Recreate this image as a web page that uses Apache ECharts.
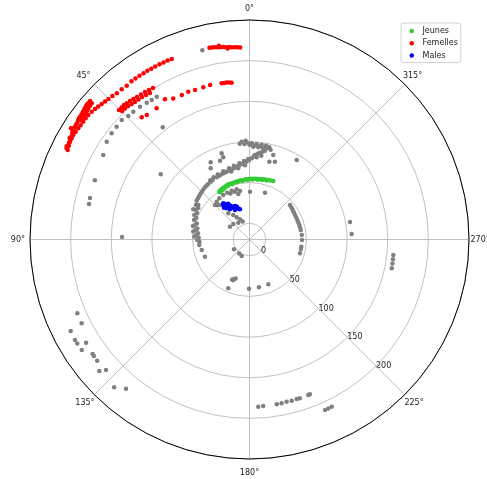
<!DOCTYPE html>
<html>
<head>
<meta charset="utf-8">
<script src="https://cdn.jsdelivr.net/npm/echarts@6/dist/echarts.min.js"></script>
<style>
  html, body { margin: 0; padding: 0; background: #fff; }
  #chart { width: 487px; height: 479px; }
</style>
</head>
<body>
<div id="chart"></div>
<script>
// Angle ticks (degrees, counter-clockwise from north) and radial ticks
const angleTicks = [0, 45, 90, 135, 180, 225, 270, 315];
const radialTicks = [0, 50, 100, 150, 200];
const radialMax = 250;

// Points are [angle in degrees, distance]
const jeunes = [
  [32.3, 49.5], [31, 50.2], [29, 50.6], [27, 51.2], [24.9, 51.6], [23, 52.2], [21, 52.7], [18.5, 52.6],
  [15.9, 52.7], [13.3, 53.1], [10.8, 53.3], [8.3, 53.5], [5.9, 53.6], [3.5, 54.1], [1.1, 54.4],
  [358.7, 54.7], [356.4, 54.9], [354, 55.1], [351.7, 55.2], [349.4, 55.6], [347.1, 56], [344.8, 56.4],
  [342.5, 56.8], [340.2, 57.2], [337.9, 57.7], [31.5, 48.3], [28, 49.4], [26, 50.1], [22, 51.1],
  [17, 51.4], [12, 52.1], [7, 52.4], [2, 53.2], [357, 53.8], [352, 54.2], [348, 54.8], [344, 55.5]
];

const femellesTop = [
  [2.8, 216.4], [3.6, 216.9], [4.4, 217.3], [5.3, 217.6], [6.1, 218], [7, 218.4], [7.8, 218.9],
  [8.7, 219.3], [9.5, 219.8], [10.4, 220.3], [11.2, 220.7], [11.8, 221], [6.5, 216.6], [9, 221.2]
];

const femellesOuter = [
  [23.3, 221.8], [24.6, 222], [25.9, 222.1], [27.2, 222.2], [28.6, 222.3], [29.9, 222.4], [31.2, 222.5],
  [32.5, 222.6], [33.9, 222.7], [35.3, 222.8], [36.7, 222.9], [38.6, 222], [40.4, 222.5], [42.2, 222.9],
  [43.7, 224], [45.1, 225], [46.3, 225.8], [47.5, 226.6], [48.7, 227.7], [49.8, 228.7], [51, 229.7],
  [52.3, 230.6], [53.5, 230.6], [54.7, 230.6], [55.9, 230.9], [57, 231.1], [58.2, 231.6], [59.3, 232],
  [60.4, 231.7], [61.4, 231.4], [62.6, 230.3], [63.8, 229.2],
  // dense cluster on the outer side
  [49, 239.8], [49.7, 239.8], [50.4, 239.8], [51, 239.3], [51.7, 238.9], [52.5, 238.2], [53.3, 237.6],
  [54, 237.4], [54.6, 237.3], [55.3, 236.7], [56.1, 236.1], [56.8, 235.8], [57.5, 235.6],
  [49.2, 236.3], [50, 236], [50.9, 235.6], [51.6, 235], [52.4, 234.4], [53, 234.2], [53.5, 234.1],
  [54.1, 234.1], [54.7, 234.1],
  [58.3, 232.3], [58.7, 235.1], [58.1, 238.7], [59.2, 233.8], [60, 232.6], [60.5, 234], [61, 232.4],
  [61.8, 231.9], [62.5, 231.4], [63, 232.5], [63.5, 231.3]
];

const femellesMid = [
  [32.5, 200.9], [33.9, 201.6], [35.3, 202.4], [36.8, 202.8], [38.3, 203.3], [39.6, 204.1], [40.8, 205],
  [42, 205.6], [43, 206.3], [44.1, 206.2], [45.2, 206.2], [34.2, 197.8], [35.6, 198.7], [37, 199.6],
  [38.4, 199.8], [39.8, 200.1], [41, 201], [42.3, 202], [43.6, 202.3], [44.8, 202.6]
];

const femellesInner = [
  [41.4, 180.5], [39.5, 178.6], [35.3, 177.7], [31.1, 181.4], [28.4, 177.3], [25.1, 176.3],
  [22.5, 176.8], [20, 175.7], [16.9, 175.6], [14.3, 176.2], [10.1, 175.2], [9.2, 175.1],
  [8.3, 175], [7.4, 174.6], [6.5, 174.1]
];

const males = [
  [37.2, 33.3], [35.4, 32.8], [33.5, 32.4], [32.3, 28.7], [30.3, 25.9], [27, 23.9], [24.6, 22.7],
  [22.3, 21.5], [19.9, 20.2], [17.5, 19], [26.2, 20.5], [32.9, 24.2], [36.2, 27.5], [34.5, 30.2],
  [29, 27.4], [23.5, 24.8], [21, 23], [35.8, 35], [38.8, 30.1], [30.8, 31]
];

// Unlabelled observations
const grayOuter = [
  [14, 220], [33, 189.5], [35, 189.6], [36.9, 190.5], [39.5, 191.7], [42.3, 192.4], [44.5, 192.8],
  [46.9, 195.2], [49.7, 194.3], [52.4, 194], [55.6, 192.9], [60, 187.7], [69, 183.7], [75.4, 182.7],
  [77.5, 182.2], [37.7, 154.5], [88.9, 136.8], [53.7, 115.5]
];

const grayFar = [
  [113.2, 210.4], [116.5, 210.7], [117.1, 227.1], [119.9, 227.7], [121.1, 227.4], [122.3, 217.8],
  [123.4, 227.1], [126.1, 218.9], [126.8, 219], [128.5, 219.4], [131.2, 225.5], [132.3, 218.6],
  [137.5, 226.4], [140.4, 218.3],
  [183, 185.9], [184.7, 185.5], [189.4, 185.4], [191.1, 185.3], [192.9, 184.7], [194.7, 184.9],
  [196.5, 184.6], [197.6, 184.9], [200.7, 184.4], [201.3, 184.4], [203.9, 209.4], [205, 209.2],
  [206.2, 209.2],
  [263.8, 157.9], [262.2, 158.1], [260.5, 158.3], [258.6, 158.5], [273.1, 105.8], [279.9, 105.5]
];

const grayInner = [
  [4.6, 100.7], [1.6, 99.6], [358.7, 98.3], [355.7, 97.8], [352.7, 97.6], [350, 97.1], [347.9, 96],
  [351.4, 93.4], [354.5, 93.9], [357.7, 94.3], [3, 97.5], [0, 96.5], [356.5, 96], [353.5, 95.5],
  [349, 94.5], [346.8, 93.5], [5.8, 98.5], [2.3, 101.5],
  [350.1, 90.8], [351.5, 89.2], [353.1, 87.5], [354.6, 85.9], [356.3, 84.2], [358.4, 79.9], [0.3, 77.8],
  [2.1, 75.8], [5.9, 73.4], [10, 70.9], [14.2, 69.1], [18.6, 67.9], [23.1, 67.2], [27.8, 66.5],
  [31.7, 66.1], [36.6, 65], [40.4, 64.4], [45, 63.1], [49.1, 61.7], [53.7, 60.6], [57.2, 58.3], [8, 72],
  [12, 70], [16.4, 68.5], [20.8, 67.5], [25.4, 66.8], [34, 65.6], [38.5, 64.7], [42.7, 63.8], [47, 62.4],
  [51.4, 61.1], [357, 82.5], [352, 84], [355, 81.5], [1, 79], [4, 76.8], [7.5, 74.6], [12, 72.6],
  [16, 71], [21, 69.8], [26, 69], [30, 68.3], [33.5, 67.4], [3.5, 71.5], [9, 68.8], [15, 66.4],
  [56, 55.9], [61.1, 55.2], [66.1, 54.3], [70.6, 52.3], [75.1, 49.4], [80, 47.2], [85.1, 45.2],
  [90.5, 44.2], [96.3, 42.1], [102.4, 40.1], [111.1, 38.7], [68, 50.5], [73, 47.8], [78, 45.5],
  [83, 43.8], [88, 42.5], [93, 41.6], [63.5, 52.1], [58.5, 54], [76.5, 51.5], [82, 49.8], [87, 48],
  [41, 41.5], [36.2, 42.9], [30.5, 43.5], [25.4, 43.7], [20, 43.8], [14.3, 43.7], [11.1, 40.8],
  [13.8, 37.7], [45, 40], [40.5, 35.8], [43, 38], [17, 41.5], [22.5, 41.2],
  [38.9, 21.5], [33.5, 16.2], [30, 11.5], [25.2, 7.4], [20.9, 3.5], [33.7, 4.8], [46.3, 7.6], [56.7, 8.7],
  [17.9, 91.4], [17.7, 86.2], [20.5, 83.4], [26.7, 86.3], [28.6, 79.8], [344.3, 88], [341.9, 80.7],
  [345.7, 78.8], [329.3, 93.8], [359.4, 38.8], [341.7, 40.6], [61.7, 58.5],
  [310.4, 45.4], [307.3, 44.8], [304.3, 44.3], [301.3, 43.9], [298.3, 43.6], [295.2, 43.5],
  [292.2, 43.5], [289.2, 43.6], [286.2, 43.8], [283.4, 43.9], [280.5, 44.1], [274.9, 44.5],
  [269.5, 44.6], [262.1, 44.3], [259.5, 44.3], [254.7, 44.4],
  [158.6, 32.2], [160.5, 31], [156.5, 33.5], [158, 34], [156.5, 45.4], [179.4, 40.5], [191.2, 39.9],
  [202.8, 39.8], [122.3, 2.5], [143.5, 1.2], [154.7, 2.4]
];

const toPolar = pts => pts.map(p => [p[1], p[0]]);
const femelles = femellesTop.concat(femellesOuter, femellesMid, femellesInner);
const gray = grayOuter.concat(grayFar, grayInner);

const center = [249.5, 239.5];
const outerR = 219.5;
const innerR = 16.3;
const font = 'DejaVu Sans';
const txt = '#222222';
const fs = 8;

// Padding per angle label [top, right, bottom, left] so each label sits centred
// a fixed distance outside the frame
const anglePad = {
  0: [0, 0, 11, 0], 45: [0, 6.5, 7, 0], 90: [0, 9, 0, 0], 135: [7.5, 2.5, 0, 0],
  180: [14, 0, 0, 0], 225: [7.5, 0, 0, 2.5], 270: [0, 0, 0, 5.5], 315: [0, 0, 7, 1]
};
const angleRich = {};
angleTicks.forEach(a => {
  angleRich['a' + a] = { padding: anglePad[a], fontFamily: font, fontSize: fs, color: txt };
});

const chart = echarts.init(document.getElementById('chart'), null, { renderer: 'canvas' });
chart.setOption({
  animation: false,
  backgroundColor: '#ffffff',
  polar: [
    { center: center, radius: outerR },
    { center: center, radius: [innerR, outerR] },
    { center: center, radius: [innerR, outerR] }
  ],
  angleAxis: [
    {
      polarIndex: 0, type: 'value', min: 0, max: 360, interval: 45,
      startAngle: 90, clockwise: false,
      axisLine: { show: true, lineStyle: { color: '#000', width: 1 } },
      axisTick: { show: false },
      axisLabel: {
        margin: -4, fontFamily: font, fontSize: fs, color: txt, rich: angleRich,
        formatter: v => (angleTicks.indexOf(v) < 0 || v === 360 ? '' : '{a' + v + '|' + v + '°}')
      },
      splitLine: { show: true, lineStyle: { color: '#b0b0b0', width: 0.8 } },
      z: 1
    },
    {
      polarIndex: 1, type: 'value', min: 0, max: 360, startAngle: 90, clockwise: false,
      axisLine: { show: false }, axisTick: { show: false }, axisLabel: { show: false },
      splitLine: { show: false }
    },
    {
      polarIndex: 2, type: 'value', min: 0, max: 360, startAngle: -45, clockwise: false,
      axisLine: { show: false }, axisTick: { show: false }, axisLabel: { show: false },
      splitLine: { show: false }
    }
  ],
  radiusAxis: [
    {
      polarIndex: 0, type: 'value', min: 0, max: 1,
      axisLine: { show: false }, axisTick: { show: false }, axisLabel: { show: false },
      splitLine: { show: false }
    },
    {
      polarIndex: 1, type: 'value', min: 0, max: radialMax, interval: 50,
      axisLine: { show: false }, axisTick: { show: false }, axisLabel: { show: false },
      splitLine: { show: true, showMaxLine: false, lineStyle: { color: '#b0b0b0', width: 0.8 } }
    },
    {
      polarIndex: 2, type: 'value', min: 0, max: radialMax, interval: 50,
      axisLine: { show: false }, axisTick: { show: false }, splitLine: { show: false },
      axisLabel: {
        show: true, margin: 0, fontFamily: font, fontSize: fs, color: txt,
        align: 'left', verticalAlign: 'middle', padding: [0, 0, 6, 0],
        formatter: v => (radialTicks.indexOf(v) >= 0 ? String(v) : '')
      }
    }
  ],
  legend: {
    orient: 'vertical', left: 401, top: 23,
    data: ['Jeunes', 'Femelles', 'Males'],
    icon: 'circle', itemWidth: 11.5, itemHeight: 4.5, itemGap: 0.3,
    padding: [2, 3, 1, 8.5],
    borderColor: '#d0d0d0', borderWidth: 1, borderRadius: 3,
    backgroundColor: 'rgba(255,255,255,0.8)',
    textStyle: { fontFamily: font, fontSize: fs, lineHeight: 12, color: txt }
  },
  series: [
    {
      name: 'autres', type: 'scatter', coordinateSystem: 'polar', polarIndex: 1,
      data: toPolar(gray), symbolSize: 4.5, itemStyle: { color: '#808080', opacity: 1 }, z: 2
    },
    {
      name: 'Jeunes', type: 'scatter', coordinateSystem: 'polar', polarIndex: 1,
      data: toPolar(jeunes), symbolSize: 4.5, itemStyle: { color: '#32cd32', opacity: 1 }, z: 3
    },
    {
      name: 'Femelles', type: 'scatter', coordinateSystem: 'polar', polarIndex: 1,
      data: toPolar(femelles), symbolSize: 4.5, itemStyle: { color: '#ff0000', opacity: 1 }, z: 3
    },
    {
      name: 'Males', type: 'scatter', coordinateSystem: 'polar', polarIndex: 1,
      data: toPolar(males), symbolSize: 4.5, itemStyle: { color: '#0000ff', opacity: 1 }, z: 3
    }
  ]
});
</script>
</body>
</html>
